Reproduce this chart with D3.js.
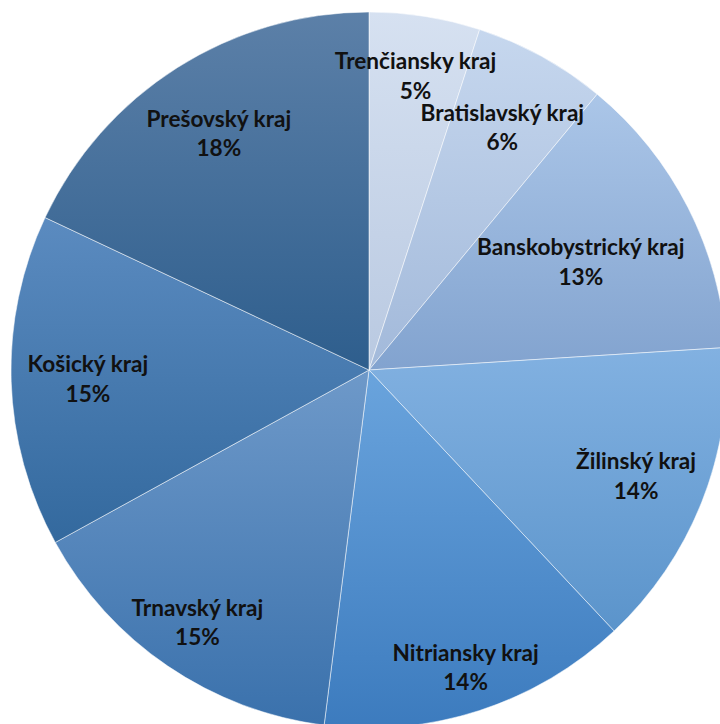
<!DOCTYPE html>
<html>
<head>
<meta charset="utf-8">
<script src="https://cdn.jsdelivr.net/npm/d3@7/dist/d3.min.js"></script>
<style>
  html, body { margin: 0; padding: 0; background: #ffffff; }
  svg { display: block; }
</style>
</head>
<body>
<svg id="chart" width="720" height="724"></svg>
<script>
// Regions and their shares (percent)
const regions = [
  "Trenčiansky kraj", "Bratislavský kraj", "Banskobystrický kraj", "Žilinský kraj",
  "Nitriansky kraj", "Trnavský kraj", "Košický kraj", "Prešovský kraj"
];
const shares = [5, 6, 13, 14, 14, 15, 15, 18];
const shareLabels = ["5%", "6%", "13%", "14%", "14%", "15%", "15%", "18%"];

// Gradient stops per slice: lighter at the top, darker at the bottom
const topColors = ["#d6e1f1", "#c6d7ee", "#abc6e8", "#82b1e1", "#6aa4dd", "#6e99c9", "#5b8bc0", "#5c80a8"];
const bottomColors = ["#b9c9e1", "#a2b9da", "#82a3cf", "#5b94cb", "#3c7bbe", "#3a71ac", "#33699e", "#2e5e8d"];

const svg = d3.select("#chart");
const cx = 369, cy = 370, R = 358;

const defs = svg.append("defs");
topColors.forEach((c, i) => {
  const g = defs.append("linearGradient")
    .attr("id", "grad" + i)
    .attr("x1", 0).attr("y1", 0).attr("x2", 0).attr("y2", 1);
  g.append("stop").attr("offset", "0%").attr("stop-color", c);
  g.append("stop").attr("offset", "100%").attr("stop-color", bottomColors[i]);
});

const pie = d3.pie().sort(null).value(d => d.value)
  .startAngle(0).endAngle(2 * Math.PI);
const data = regions.map((name, i) => ({ name, value: shares[i], label: shareLabels[i], i }));
const arcs = pie(data);
const arc = d3.arc().innerRadius(0).outerRadius(R);

const g = svg.append("g").attr("transform", `translate(${cx},${cy})`);

g.selectAll("path.slice")
  .data(arcs)
  .join("path")
  .attr("class", "slice")
  .attr("d", arc)
  .attr("fill", d => `url(#grad${d.data.i})`)
  .attr("stroke", "rgba(255,255,255,0.5)")
  .attr("stroke-width", 1);

// Labels: two lines, pushed outward along the slice's mid angle as far as they fit
const fontSize = 22.6, lineGap = 29.5;
const labels = g.selectAll("g.lab")
  .data(arcs)
  .join("g")
  .attr("class", "lab");

labels.each(function(d) {
  const el = d3.select(this);
  const mk = (txt, y) => el.append("text")
    .attr("text-anchor", "middle")
    .attr("font-family", "Lato, 'Open Sans', sans-serif")
    .attr("font-weight", "bold")
    .attr("font-size", fontSize)
    .attr("fill", "#111111")
    .attr("y", y)
    .text(txt);
  const t1 = mk(d.data.name, 0);
  const t2 = mk(d.data.label, lineGap);

  const w1 = t1.node().getComputedTextLength();
  const w2 = t2.node().getComputedTextLength();
  const cap = fontSize * 0.72;
  // glyph boxes of both lines, relative to the first baseline
  const boxes = [
    [-w1 / 2, -cap, w1 / 2, 0],
    [-w2 / 2, lineGap - cap, w2 / 2, lineGap]
  ];
  const shiftY = -(lineGap - cap) / 2; // centres the two-line block on the anchor point
  const mid = (d.startAngle + d.endAngle) / 2;
  const ux = Math.sin(mid), uy = -Math.cos(mid);
  const limit = R * 0.955;
  let best = R * 0.4;
  for (let r = R * 0.4; r < R; r += 0.5) {
    const ox = ux * r, oy = uy * r + shiftY;
    const fits = boxes.every(b =>
      [[b[0], b[1]], [b[2], b[1]], [b[0], b[3]], [b[2], b[3]]]
        .every(p => Math.hypot(ox + p[0], oy + p[1]) <= limit));
    if (fits) best = r; else break;
  }
  el.attr("transform", `translate(${ux * best},${uy * best + shiftY})`);
});
</script>
</body>
</html>
